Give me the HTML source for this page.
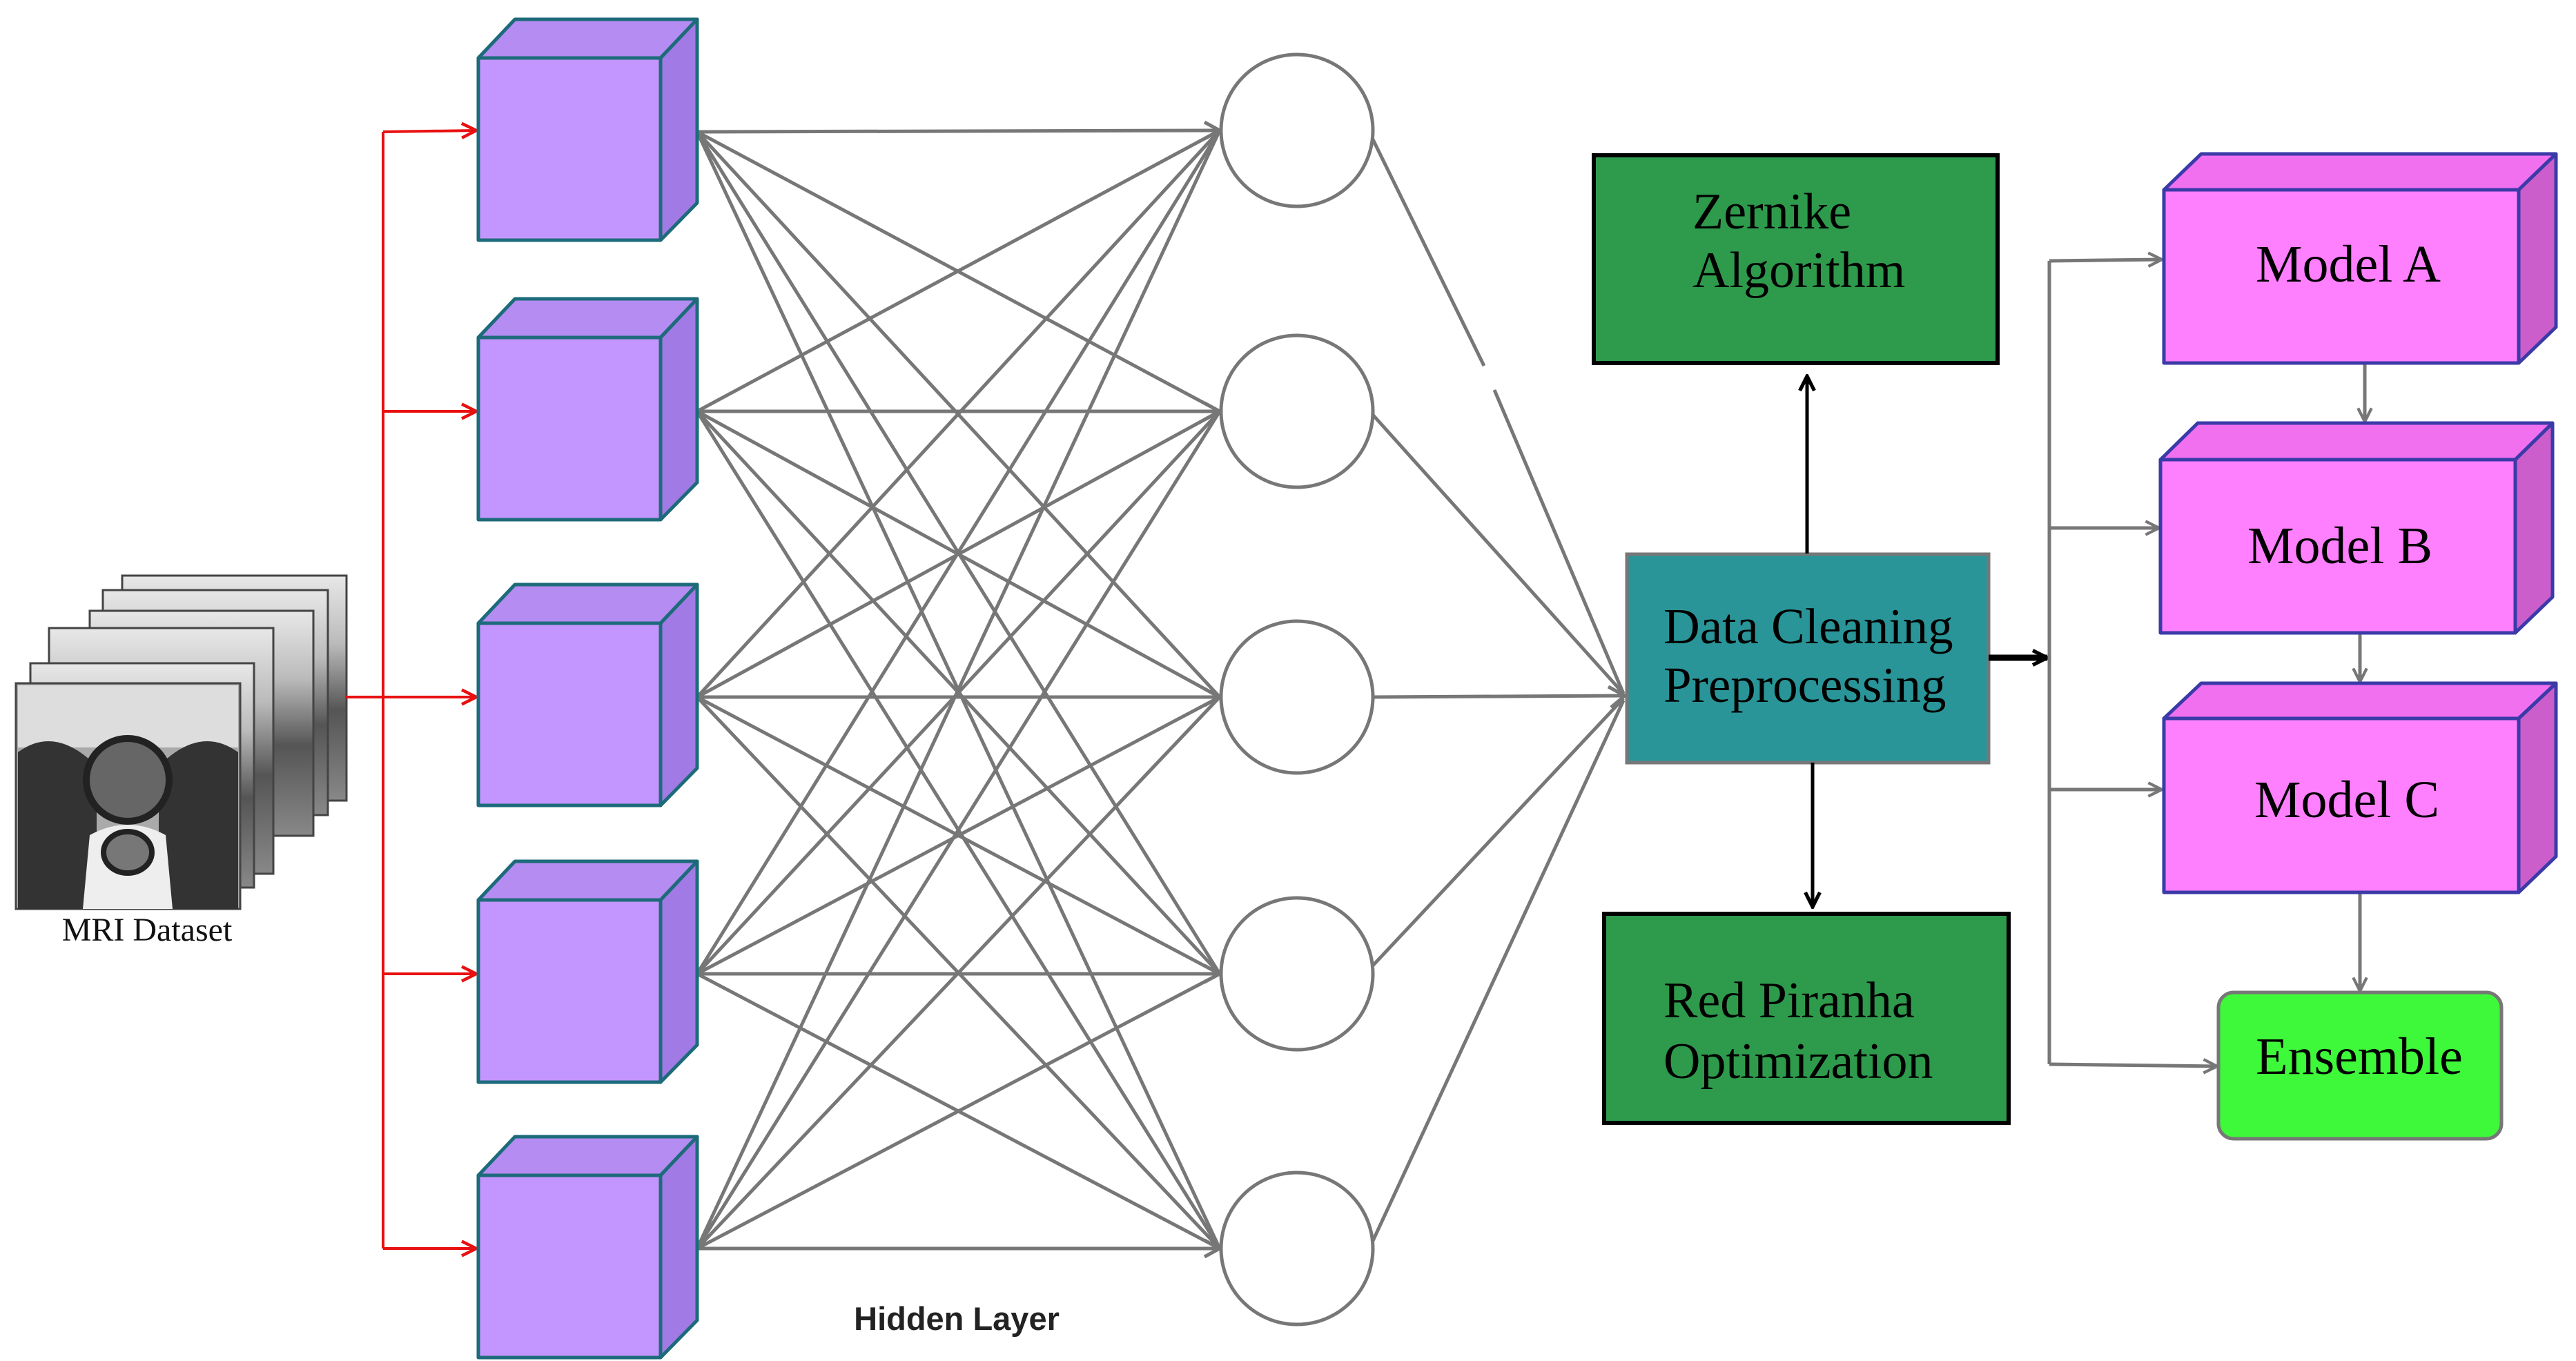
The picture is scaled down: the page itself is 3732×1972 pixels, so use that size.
<!DOCTYPE html>
<html><head><meta charset="utf-8"><style>html,body{margin:0;padding:0;background:#fff}svg{display:block}</style></head>
<body>
<svg width="3732" height="1972" viewBox="0 0 3732 1972" xmlns="http://www.w3.org/2000/svg">
<defs>
<marker id="ag2" viewBox="0 0 20 20" refX="18" refY="10" markerWidth="28" markerHeight="28" markerUnits="userSpaceOnUse" orient="auto"><path d="M4 3 L18 10 L4 17" fill="none" stroke="#777" stroke-width="3"/></marker>
<marker id="ar" viewBox="0 0 20 20" refX="18" refY="10" markerWidth="30" markerHeight="30" markerUnits="userSpaceOnUse" orient="auto"><path d="M4 3 L18 10 L4 17" fill="none" stroke="#e81010" stroke-width="3"/></marker>
<marker id="ab" viewBox="0 0 20 20" refX="18" refY="10" markerWidth="30" markerHeight="30" markerUnits="userSpaceOnUse" orient="auto"><path d="M4 3 L18 10 L4 17" fill="none" stroke="#000" stroke-width="3.5"/></marker>
<linearGradient id="mri" x1="0" y1="0" x2="0" y2="1"><stop offset="0" stop-color="#e8e8e8"/><stop offset="0.3" stop-color="#bbb"/><stop offset="0.6" stop-color="#555"/><stop offset="1" stop-color="#888"/></linearGradient>
</defs>

<g stroke="#444" stroke-width="3">
<rect x="177" y="834" width="325" height="326" fill="url(#mri)"/>
<rect x="149" y="855" width="326" height="326" fill="url(#mri)"/>
<rect x="130" y="885" width="324" height="326" fill="url(#mri)"/>
<rect x="71" y="910" width="325" height="356" fill="url(#mri)"/>
<rect x="44" y="961" width="324" height="325" fill="url(#mri)"/>
<rect x="23" y="990" width="325" height="327" fill="#aaa"/>
</g>
<g>
<rect x="26" y="993" width="319" height="90" fill="#ddd"/>
<path d="M26 1090 Q80 1050 140 1110 L140 1317 L26 1317 Z" fill="#333"/>
<path d="M345 1090 Q290 1050 230 1110 L230 1317 L345 1317 Z" fill="#333"/>
<ellipse cx="185" cy="1130" rx="60" ry="60" fill="#666" stroke="#222" stroke-width="10"/>
<path d="M130 1210 Q185 1180 240 1210 L250 1317 L120 1317 Z" fill="#eee"/>
<ellipse cx="185" cy="1235" rx="35" ry="30" fill="#777" stroke="#222" stroke-width="8"/>
</g>
<text x="213" y="1363" font-family="Liberation Serif, serif" font-size="48" text-anchor="middle" fill="#111">MRI Dataset</text>

<g stroke="#e81010" stroke-width="4" fill="none">
<line x1="501" y1="1010" x2="555" y2="1010"/>
<line x1="555" y1="191" x2="555" y2="1809"/>
<line x1="555" y1="191" x2="690" y2="189" marker-end="url(#ar)"/>
<line x1="555" y1="596" x2="690" y2="596" marker-end="url(#ar)"/>
<line x1="555" y1="1010" x2="690" y2="1010" marker-end="url(#ar)"/>
<line x1="555" y1="1411" x2="690" y2="1411" marker-end="url(#ar)"/>
<line x1="555" y1="1809" x2="690" y2="1809" marker-end="url(#ar)"/>
</g>

<g stroke="#777" stroke-width="5" fill="none">
<path d="M1010 191 L1767 189 M1010 191 L1767 596 M1010 191 L1767 1010 M1010 191 L1767 1411 M1010 191 L1767 1809"/>
<path d="M1010 596 L1767 189 M1010 596 L1767 596 M1010 596 L1767 1010 M1010 596 L1767 1411 M1010 596 L1767 1809"/>
<path d="M1010 1010 L1767 189 M1010 1010 L1767 596 M1010 1010 L1767 1010 M1010 1010 L1767 1411 M1010 1010 L1767 1809"/>
<path d="M1010 1411 L1767 189 M1010 1411 L1767 596 M1010 1411 L1767 1010 M1010 1411 L1767 1411 M1010 1411 L1767 1809"/>
<path d="M1010 1809 L1767 189 M1010 1809 L1767 596 M1010 1809 L1767 1010 M1010 1809 L1767 1411 M1010 1809 L1767 1809"/>
<path d="M1745 177 L1767 189 L1745 201 M1745 584 L1767 596 L1745 608 M1745 998 L1767 1010 L1745 1022 M1745 1399 L1767 1411 L1745 1423 M1745 1797 L1767 1809 L1745 1821"/>
</g>

<g stroke="#1d6b7a" stroke-width="5" stroke-linejoin="round">
<g id="c1">
<polygon points="693,84 746,28 1010,28 957,84" fill="#b48cf2"/>
<polygon points="957,84 1010,28 1010,294 957,348" fill="#a27ae6"/>
<rect x="693" y="84" width="264" height="264" fill="#c395ff"/>
</g>
<use href="#c1" y="405"/>
<use href="#c1" y="819"/>
<use href="#c1" y="1220"/>
<use href="#c1" y="1619"/>
</g>

<g stroke="#777" stroke-width="5" fill="#fff">
<circle cx="1879" cy="189" r="110"/>
<circle cx="1879" cy="596" r="110"/>
<circle cx="1879" cy="1010" r="110"/>
<circle cx="1879" cy="1411" r="110"/>
<circle cx="1879" cy="1809" r="110"/>
</g>
<text x="1386" y="1927" font-family="Liberation Sans, sans-serif" font-weight="bold" font-size="47" text-anchor="middle" fill="#222">Hidden Layer</text>

<g stroke="#777" stroke-width="5" fill="none">
<line x1="1988" y1="200" x2="2150" y2="530"/>
<line x1="2165" y1="565" x2="2352" y2="1005"/>
<line x1="1988" y1="600" x2="2352" y2="1005"/>
<line x1="1989" y1="1010" x2="2352" y2="1008"/>
<line x1="1988" y1="1400" x2="2352" y2="1012"/>
<line x1="1988" y1="1800" x2="2352" y2="1015"/>
<path d="M2330 995 L2354 1008 L2334 1025"/>
</g>

<rect x="2309" y="225" width="585" height="301" fill="#2e9a4c" stroke="#000" stroke-width="6"/>
<text font-family="Liberation Serif, serif" font-size="74" fill="#000"><tspan x="2452" y="331">Zernike</tspan><tspan x="2452" y="416">Algorithm</tspan></text>
<rect x="2357" y="803" width="524" height="302" fill="#2a9598" stroke="#777" stroke-width="5"/>
<text font-family="Liberation Serif, serif" font-size="73" fill="#000"><tspan x="2410" y="932">Data Cleaning</tspan><tspan x="2410" y="1017">Preprocessing</tspan></text>
<rect x="2324" y="1324" width="586" height="303" fill="#2e9a4c" stroke="#000" stroke-width="6"/>
<text font-family="Liberation Serif, serif" font-size="74" fill="#000"><tspan x="2410" y="1474">Red Piranha</tspan><tspan x="2410" y="1562">Optimization</tspan></text>

<g stroke="#000" stroke-width="5" fill="none">
<line x1="2618" y1="802" x2="2618" y2="545" marker-end="url(#ab)"/>
<line x1="2626" y1="1105" x2="2626" y2="1314" marker-end="url(#ab)"/>
<line x1="2881" y1="953" x2="2966" y2="953" stroke-width="9" marker-end="url(#ab)"/>
</g>

<g stroke="#777" stroke-width="5" fill="none">
<line x1="2969" y1="378" x2="2969" y2="1542"/>
<line x1="2969" y1="378" x2="3132" y2="376" marker-end="url(#ag2)"/>
<line x1="2969" y1="765" x2="3128" y2="765" marker-end="url(#ag2)"/>
<line x1="2969" y1="1144" x2="3132" y2="1144" marker-end="url(#ag2)"/>
<line x1="2969" y1="1542" x2="3212" y2="1545" marker-end="url(#ag2)"/>
<line x1="3426" y1="526" x2="3426" y2="611" marker-end="url(#ag2)"/>
<line x1="3419" y1="917" x2="3419" y2="988" marker-end="url(#ag2)"/>
<line x1="3419" y1="1293" x2="3419" y2="1436" marker-end="url(#ag2)"/>
</g>

<g stroke="#3a3aa8" stroke-width="5" stroke-linejoin="round">
<g>
<polygon points="3135,275 3189,223 3703,223 3649,275" fill="#f070f0"/>
<polygon points="3649,275 3703,223 3703,474 3649,526" fill="#cc5ecc"/>
<rect x="3135" y="275" width="514" height="251" fill="#ff80ff"/>
</g>
<g>
<polygon points="3130,666 3184,613 3698,613 3644,666" fill="#f070f0"/>
<polygon points="3644,666 3698,613 3698,865 3644,917" fill="#cc5ecc"/>
<rect x="3130" y="666" width="514" height="251" fill="#ff80ff"/>
</g>
<g>
<polygon points="3135,1041 3189,990 3703,990 3649,1041" fill="#f070f0"/>
<polygon points="3649,1041 3703,990 3703,1241 3649,1293" fill="#cc5ecc"/>
<rect x="3135" y="1041" width="514" height="252" fill="#ff80ff"/>
</g>
</g>
<rect x="3214" y="1438" width="410" height="212" rx="22" fill="#3ef83a" stroke="#777" stroke-width="5"/>
<g font-family="Liberation Serif, serif" font-size="76" fill="#000" text-anchor="middle">
<text x="3402" y="408">Model A</text>
<text x="3390" y="816">Model B</text>
<text x="3400" y="1184">Model C</text>
<text x="3418" y="1556">Ensemble</text>
</g>
</svg>
</body></html>
